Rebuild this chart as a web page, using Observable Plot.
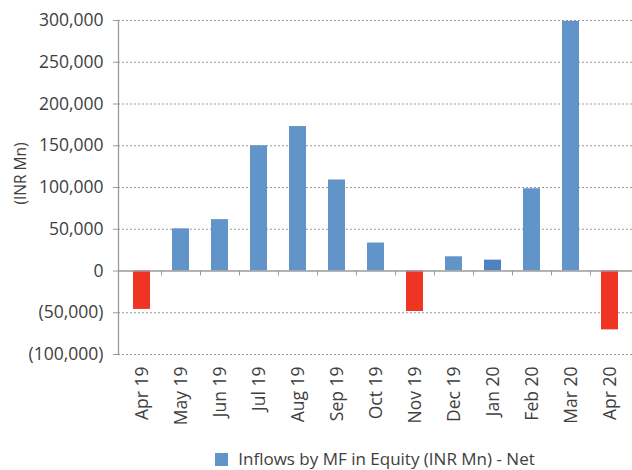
<!DOCTYPE html>
<html>
<head>
<meta charset="utf-8">
<script src="https://cdn.jsdelivr.net/npm/d3@7"></script>
<script src="https://cdn.jsdelivr.net/npm/@observablehq/plot@0.6"></script>
<style>
  html, body { margin: 0; padding: 0; background: #fff; }
  body { width: 632px; font-family: "Open Sans", sans-serif; }
  #legend { margin-left: 118px; width: 514px; text-align: center; font-size: 17px; color: #404040; margin-top: 17px; }
  #legend .sw { display: inline-block; width: 13px; height: 13px; background: #6194c9; margin-right: 10px; vertical-align: -1px; }
</style>
</head>
<body>
<div id="chart"></div>
<div id="legend"><span class="sw"></span>Inflows by MF in Equity (INR Mn) - Net</div>
<script>
const months = ["Apr 19","May 19","Jun 19","Jul 19","Aug 19","Sep 19","Oct 19","Nov 19","Dec 19","Jan 20","Feb 20","Mar 20","Apr 20"];
const values = [-46000, 50500, 61500, 150000, 173000, 109000, 33500, -48500, 17000, 13000, 98500, 299000, -70500];
const yTicks = [-100000, -50000, 0, 50000, 100000, 150000, 200000, 250000, 300000];
const seriesName = "Inflows by MF in Equity (INR Mn) - Net";
const yLabel = "(INR Mn)";

const data = months.map((m, i) => ({month: m, value: values[i]}));
const fmt = d3.format(",");
const tickFmt = d => d < 0 ? `(${fmt(-d)})` : fmt(d);

const boundaryTicks = (index, scales) => {
  const x = scales.x, y = scales.y;
  const bw = typeof x.bandwidth === "function" ? x.bandwidth() : x.bandwidth;
  const step = x(months[1]) - x(months[0]);
  const pad = (step - bw) / 2;
  const g = d3.create("svg:g");
  months.forEach((m, i) => {
    if (i === 0) return;
    const bx = Math.round(x(m) - pad) + 0.5;
    if (!isFinite(bx)) return;
    g.append("line").attr("x1", bx).attr("x2", bx).attr("y1", y(0)).attr("y2", y(0) + 5)
      .attr("stroke", "#9a9a9a").attr("stroke-width", 1);
  });
  return g.node();
};

const chart = Plot.plot({
  width: 632,
  height: 430,
  marginLeft: 118,
  marginRight: 0,
  marginTop: 20,
  marginBottom: 76,
  style: {fontFamily: "Open Sans, sans-serif", fontSize: "17px", color: "#404040", background: "#fff"},
  x: {domain: months, paddingInner: 0.57, paddingOuter: 0.285, label: null},
  y: {domain: [-100000, 300000], label: null},
  marks: [
    Plot.ruleY(yTicks.filter(d => d !== 0), {stroke: "#999", strokeDasharray: "2,2", strokeWidth: 1.2}),
    Plot.barY(data, {x: "month", y: "value",
      fill: d => d.value < 0 ? "#ef3424" : (d.month === "Jan 20" ? "#4f82be" : "#6194c9")}),
    Plot.ruleY([0], {stroke: "#9a9a9a", strokeWidth: 1.3}),
    Plot.frame({anchor: "left", stroke: "#9a9a9a", strokeWidth: 1.3}),
    boundaryTicks,
    Plot.axisY({ticks: yTicks, tickFormat: tickFmt, tickSize: 5, tickPadding: 10, stroke: "#9a9a9a", fill: "#404040", label: null, fontSize: 17.5}),
    Plot.axisX({tickRotate: -90, tickSize: 0, tickPadding: 12, fill: "#404040", label: null, fontSize: 17.5}),
    Plot.text([yLabel], {frameAnchor: "left", textAnchor: "middle", rotate: -90, dx: -97, dy: -14, fill: "#404040", fontSize: 15.5})
  ]
});
document.getElementById("chart").append(chart);
</script>
</body>
</html>
